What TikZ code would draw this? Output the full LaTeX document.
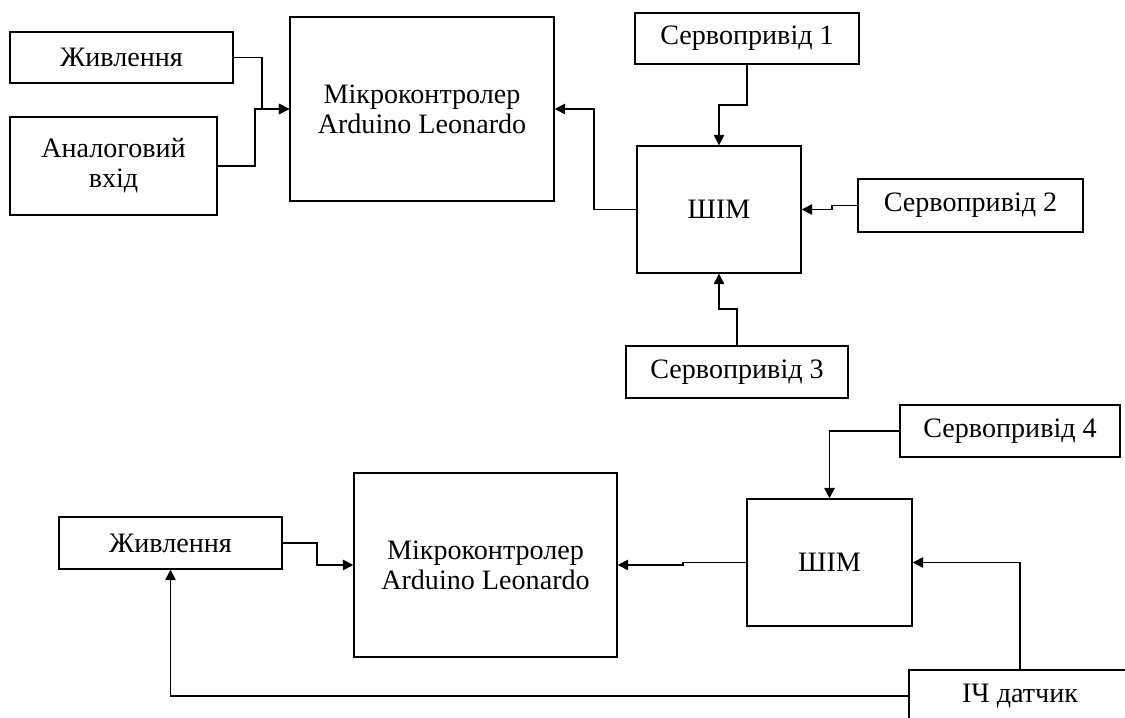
\documentclass[tikz,border=0pt]{standalone}
\usepackage{fontspec}
\setmainfont{Liberation Serif}
\usepackage{tikz}
\usetikzlibrary{arrows.meta}
\tikzset{
  blk/.style={draw, line width=0.8pt, align=center, inner sep=2pt},
  lnk/.style={draw, line width=0.8pt, -{Triangle[length=2.1mm, width=2.1mm]}}
}

\begin{document}
\begin{tikzpicture}[font=\fontsize{16}{17}\selectfont]
\useasboundingbox (0,0) rectangle (22.5,-14.36);
\clip (0,0) rectangle (22.5,-14.36);
\node[blk, minimum width=4.46cm, minimum height=1.02cm] (zhyv1) at (2.43,-1.15) {Живлення};
\node[blk, minimum width=4.14cm, minimum height=1.96cm] (analog) at (2.27,-3.32) {Аналоговий\\вхід};
\node[blk, minimum width=5.28cm, minimum height=3.68cm] (mc1) at (8.44,-2.18) {Мікроконтролер\\Arduino Leonardo};
\node[blk, minimum width=3.28cm, minimum height=2.54cm] (pwm1) at (14.38,-4.19) {ШІМ};
\node[blk, minimum width=4.48cm, minimum height=1.02cm] (servo1) at (14.94,-0.77) {Сервопривід 1};
\node[blk, minimum width=4.50cm, minimum height=1.06cm] (servo2) at (19.41,-4.11) {Сервопривід 2};
\node[blk, minimum width=4.44cm, minimum height=1.04cm] (servo3) at (14.74,-7.44) {Сервопривід 3};
\node[blk, minimum width=4.46cm, minimum height=1.04cm] (zhyv2) at (3.41,-10.86) {Живлення};
\node[blk, minimum width=5.26cm, minimum height=3.68cm] (mc2) at (9.71,-11.30) {Мікроконтролер\\Arduino Leonardo};
\node[blk, minimum width=3.30cm, minimum height=2.54cm] (pwm2) at (16.59,-11.25) {ШІМ};
\node[blk, minimum width=4.40cm, minimum height=1.04cm] (servo4) at (20.20,-8.62) {Сервопривід 4};
\node[blk, minimum width=4.44cm, minimum height=1.04cm] (ir) at (20.40,-13.92) {ІЧ датчик};
\draw[lnk] (zhyv1.east) -| (5.24,-2.18) -- (mc1.west);
\draw[lnk] (analog.east) -| (5.10,-2.18) -- (mc1.west);
\draw[lnk] (pwm1.west) -| (11.88,-2.18) -- (mc1.east);
\draw[lnk] (servo1.south) |- (14.38,-2.10) -- (pwm1.north);
\draw[lnk] (servo2.west) -| (16.64,-4.19) -- (pwm1.east);
\draw[lnk] (servo3.north) |- (14.38,-6.18) -- (pwm1.south);
\draw[lnk] (zhyv2.east) -| (6.34,-11.30) -- (mc2.west);
\draw[lnk] (pwm2.west) -| (13.66,-11.30) -- (mc2.east);
\draw[lnk] (servo4.west) -| (pwm2.north);
\draw[lnk] (ir.north) |- (pwm2.east);
\draw[lnk] (ir.west) -| (zhyv2.south);
\end{tikzpicture}
\end{document}
